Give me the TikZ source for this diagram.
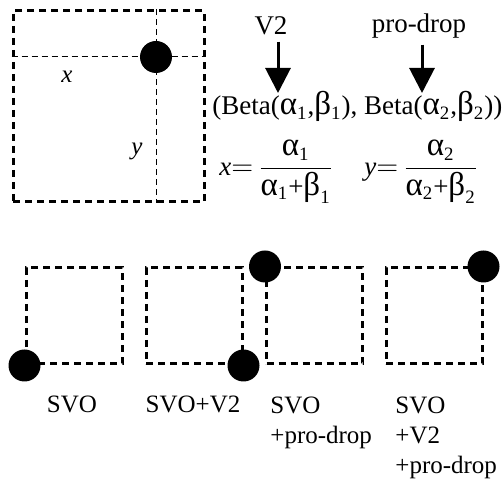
\documentclass[tikz,border=0pt]{standalone}
\usepackage{amsmath}
\usepackage{fontspec}
\setmainfont{Liberation Serif}
\usetikzlibrary{arrows.meta,positioning}

\newcommand{\grk}[1]{{\fontsize{16.5}{16.5}\selectfont #1}}

\tikzset{
  frame/.style={draw,line width=1.5pt,dash pattern=on 3.5pt off 2.5pt,inner sep=0pt},
  guide/.style={line width=0.5pt,dash pattern=on 3pt off 2pt},
  dot/.style={circle,fill=black,inner sep=0pt,minimum size=16pt},
  lbl/.style={font=\fontsize{12.5}{15}\selectfont,inner sep=0pt},
  biglbl/.style={font=\fontsize{13.5}{16}\selectfont,inner sep=0pt},
  push/.style={-{Triangle[width=12.5pt,length=12.5pt]},line width=1.5pt}
}

\begin{document}
\begin{tikzpicture}[x=0.5pt,y=-0.5pt]
    \useasboundingbox (0,0) rectangle (504,485);
    % unit square with the point
    \node[frame,minimum size=95.5pt] (grid) at (108.5,106.5) {};
    \coordinate (pos) at (156,57);
    \draw[guide] (grid.west |- pos) -- (grid.east |- pos);
    \draw[guide] (grid.north -| pos) -- (grid.south -| pos);
    \node[dot] (pt) at (pos) {};
    \node[lbl] (xlab) at (67,77) {\textit{x}};
    \node[lbl] (ylab) at (137,151) {\textit{y}};

    % parameters
    \node[biglbl,inner ysep=3pt] (v2) at (271,26) {V2};
    \node[biglbl,inner ysep=3pt] (pd) at (419,26) {pro-drop};
    \coordinate (tip1) at (278,93);
    \coordinate (tip2) at (422,93);
    \draw[push] (v2.south -| tip1) -- (tip1);
    \draw[push] (pd.south -| tip2) -- (tip2);
    \node[biglbl,anchor=base west] (beta) at (212,115)
        {(Beta(\grk{α}\textsubscript{1},\grk{β}\textsubscript{1}), Beta(\grk{α}\textsubscript{2},\grk{β}\textsubscript{2}))};
    \node[biglbl,anchor=west] (xform) at (219,172)
        {$\textit{x}{=}\,\dfrac{\text{\grk{α}}_{\text{1}}}{\text{\grk{α}}_{\text{1}}\text{+}\text{\grk{β}}_{\text{1}}}$};
    \node[biglbl,anchor=west] (yform) at (364,172)
        {$\textit{y}{=}\,\dfrac{\text{\grk{α}}_{\text{2}}}{\text{\grk{α}}_{\text{2}}\text{+}\text{\grk{β}}_{\text{2}}}$};

    % the four word orders
    \node[frame,minimum size=48pt] (sq1) at (74,316) {};
    \node[frame,minimum size=48pt] (sq2) at (194,316) {};
    \node[frame,minimum size=48pt] (sq3) at (314.5,316) {};
    \node[frame,minimum size=48pt] (sq4) at (434,316) {};
    \node[dot] (d1) at (sq1.south west) {};
    \node[dot] (d2) at (sq2.south east) {};
    \node[dot] (d3) at (sq3.north west) {};
    \node[dot] (d4) at (sq4.north east) {};
    \node[lbl,anchor=base] (svo) at (72,413) {SVO};
    \node[lbl,anchor=base] (svov) at (193,413) {SVO+V2};
    \node[lbl,anchor=north west,align=left] (svop) at (270,397) {SVO\\+pro-drop};
    \node[lbl,anchor=north west,align=left] (svovp) at (395,397) {SVO\\+V2\\+pro-drop};
\end{tikzpicture}
\end{document}
